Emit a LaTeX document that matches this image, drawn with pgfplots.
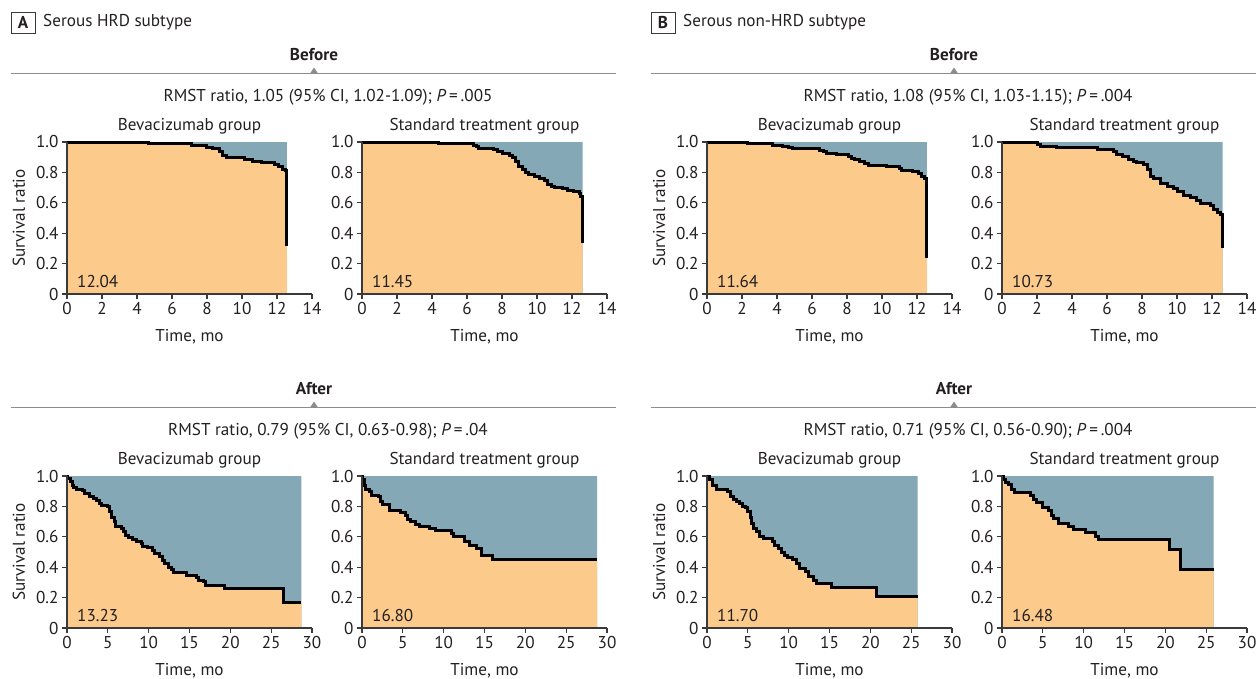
\documentclass[border=0pt]{standalone}
\usepackage{pgfplots}
\pgfplotsset{compat=1.18}
\usepackage{pgfplotstable}
\usepackage{fontspec}
\setmainfont{PT Sans}

\definecolor{kmorange}{HTML}{FCCB8C}
\definecolor{kmblue}{HTML}{84A8B6}
\definecolor{txt}{HTML}{231F20}
\definecolor{axgray}{HTML}{3A3A3A}
\definecolor{sepgray}{HTML}{8C8C8C}

\newcommand{\fs}{\fontsize{17.2}{20}\selectfont}

% survival curves: time (mo), survival ratio (step starts at t)
\pgfplotstableread{
t s
0 1.000
4.67 0.987
7.10 0.976
7.96 0.965
8.34 0.954
8.70 0.940
8.90 0.914
9.10 0.900
9.50 0.897
10.15 0.886
10.60 0.875
11.10 0.864
11.87 0.853
12.06 0.838
12.34 0.820
12.50 0.810
12.57 0.318
}\befAbev
\pgfplotstableread{
t s
0 1.000
4.38 0.989
6.39 0.980
6.54 0.970
6.67 0.956
7.53 0.950
7.73 0.936
8.00 0.923
8.40 0.914
8.60 0.897
8.78 0.870
8.97 0.838
9.16 0.820
9.35 0.800
9.54 0.787
9.83 0.770
10.12 0.757
10.40 0.746
10.60 0.720
10.80 0.710
10.98 0.700
11.46 0.695
11.74 0.684
12.10 0.673
12.40 0.662
12.50 0.640
12.60 0.333
}\befAstd
\pgfplotstableread{
t s
0 1.000
2.34 0.991
3.39 0.987
3.77 0.980
4.06 0.976
4.34 0.969
4.63 0.962
4.91 0.958
6.44 0.947
6.63 0.936
6.82 0.925
7.39 0.919
8.06 0.904
8.25 0.893
8.44 0.882
8.72 0.870
9.00 0.860
9.20 0.844
10.25 0.838
11.00 0.827
11.10 0.810
11.77 0.805
12.06 0.794
12.25 0.776
12.44 0.761
12.53 0.746
12.57 0.235
}\befBbev
\pgfplotstableread{
t s
0 1.000
2.00 0.985
2.19 0.969
3.14 0.962
5.43 0.950
6.38 0.940
6.57 0.920
6.86 0.904
7.24 0.888
7.52 0.875
7.71 0.864
8.10 0.849
8.29 0.816
8.48 0.772
8.67 0.757
9.05 0.728
9.43 0.710
9.81 0.695
10.00 0.673
10.38 0.651
10.76 0.634
11.14 0.612
11.33 0.596
11.90 0.585
12.10 0.557
12.29 0.537
12.50 0.520
12.60 0.305
}\befBstd
\pgfplotstableread{
t s
0 1.000
0.12 0.985
0.40 0.963
0.65 0.940
0.80 0.923
1.20 0.912
1.90 0.903
2.20 0.886
2.80 0.868
3.20 0.853
3.60 0.837
4.00 0.820
4.20 0.809
5.00 0.800
5.20 0.765
5.50 0.730
5.80 0.700
6.00 0.670
6.65 0.655
6.94 0.633
7.20 0.611
7.50 0.596
8.00 0.580
8.50 0.567
9.10 0.556
9.30 0.534
9.90 0.527
10.50 0.510
10.70 0.490
11.35 0.470
11.70 0.446
12.00 0.424
12.40 0.400
12.80 0.385
13.10 0.365
14.60 0.347
15.80 0.332
16.10 0.314
16.70 0.303
16.90 0.279
19.30 0.257
26.45 0.169
28.70 0.169
}\aftAbev
\pgfplotstableread{
t s
0 1.000
0.08 0.978
0.25 0.940
0.37 0.912
0.90 0.897
1.20 0.874
2.00 0.863
2.30 0.830
2.50 0.815
3.40 0.775
4.66 0.760
5.27 0.742
5.56 0.716
5.90 0.700
6.50 0.683
7.10 0.666
8.30 0.652
8.95 0.640
11.00 0.620
11.20 0.600
12.60 0.570
13.20 0.540
14.06 0.520
14.67 0.478
16.00 0.454
28.80 0.454
}\aftAstd
\pgfplotstableread{
t s
0 1.000
0.33 0.974
0.65 0.940
1.14 0.912
2.57 0.897
2.86 0.868
3.20 0.846
3.60 0.830
4.00 0.820
4.40 0.800
4.73 0.790
5.00 0.765
5.30 0.730
5.50 0.690
5.70 0.655
6.00 0.635
6.45 0.604
6.94 0.587
8.00 0.567
8.30 0.545
8.70 0.523
9.10 0.500
9.50 0.480
9.90 0.465
10.50 0.450
11.00 0.424
11.35 0.390
12.00 0.369
12.40 0.340
13.10 0.314
13.40 0.290
15.20 0.266
20.70 0.209
25.80 0.209
}\aftBbev
\pgfplotstableread{
t s
0 1.000
0.20 0.978
0.40 0.956
0.80 0.945
1.20 0.912
1.50 0.894
3.47 0.874
3.80 0.846
4.20 0.824
4.90 0.793
5.70 0.770
6.10 0.742
6.30 0.720
6.94 0.687
8.16 0.665
8.80 0.648
10.20 0.626
11.40 0.604
11.80 0.581
20.50 0.518
21.90 0.388
25.90 0.388
}\aftBstd

\pgfplotsset{panel/.style={
  scale only axis, width=245bp, height=152bp, anchor=south west,
  xmin=0, ymin=0, ymax=1,
  axis x line=bottom, axis y line=left,
  axis line style={-, line width=1.1bp, color=axgray},
  tick align=outside, major tick length=5bp,
  tick style={line width=1.1bp, color=axgray},
  ytick={0,0.2,0.4,0.6,0.8,1},
  yticklabels={0,0.2,0.4,0.6,0.8,1.0},
  tick label style={font=\fs, text=txt},
  /pgf/number format/assume math mode=true,
  clip=false, axis on top,
}}

% #1 left, #2 bottom (px from top), #3 xmax, #4 xticks, #5 table, #6 last time
\newcommand{\km}[6]{%
\begin{axis}[panel, at={(#1bp,-#2bp)}, xmax=#3, xtick={#4}]
  \addplot[fill=kmblue, draw=none] coordinates {(0,0)(0,1)(#6,1)(#6,0)} \closedcycle;
  \addplot[fill=kmorange, draw=none, const plot] table {#5} \closedcycle;
  \addplot[line width=3bp, black, const plot] table {#5};
\end{axis}}

\begin{document}
\begin{tikzpicture}
\path[use as bounding box] (0,0) rectangle (1260bp,-679bp);

% panels
\km{67}{294}{14}{0,2,...,14}{\befAbev}{12.57}
\km{362}{294}{14}{0,2,...,14}{\befAstd}{12.60}
\km{707}{294}{14}{0,2,...,14}{\befBbev}{12.57}
\km{1002}{294}{14}{0,2,...,14}{\befBstd}{12.60}
\km{67}{628}{30}{0,5,...,30}{\aftAbev}{28.70}
\km{362}{628}{30}{0,5,...,30}{\aftAstd}{28.80}
\km{707}{628}{30}{0,5,...,30}{\aftBbev}{25.80}
\km{1002}{628}{30}{0,5,...,30}{\aftBstd}{25.90}

\begin{scope}[every node/.style={font=\fs, text=txt, inner sep=0pt}]
% section headers
\draw[axgray, line width=0.9bp] (11bp,-12bp) rectangle (35bp,-33bp);
\node at (23bp,-22.5bp) {\bfseries A};
\node[anchor=west] at (43bp,-22bp) {Serous HRD subtype};
\draw[axgray, line width=0.9bp] (651bp,-12bp) rectangle (675bp,-33bp);
\node at (663bp,-22.5bp) {\bfseries B};
\node[anchor=west] at (683bp,-22bp) {Serous non-HRD subtype};

\foreach \dy/\lab in {0/Before, 334/After} {
  \foreach \cx/\lx/\rx in {314/11/616, 954/651/1256} {
    \node at (\cx bp,-55bp-\dy bp) {\bfseries \lab};
    \draw[sepgray, line width=1bp] (\lx bp,-73.5bp-\dy bp) -- (\rx bp,-73.5bp-\dy bp);
    \fill[sepgray] (\cx bp-4bp,-73.5bp-\dy bp) -- (\cx bp+4bp,-73.5bp-\dy bp) -- (\cx bp,-67.5bp-\dy bp) -- cycle;
  }
}
\node at (328bp,-97bp) {RMST ratio, 1.05 (95\% CI, 1.02-1.09); \textit{P}\,=\,.005};
\node at (968bp,-97bp) {RMST ratio, 1.08 (95\% CI, 1.03-1.15); \textit{P}\,=\,.004};
\node at (328bp,-431bp) {RMST ratio, 0.79 (95\% CI, 0.63-0.98); \textit{P}\,=\,.04};
\node at (968bp,-431bp) {RMST ratio, 0.71 (95\% CI, 0.56-0.90); \textit{P}\,=\,.004};

% panel titles, axis labels
\foreach \dy in {0, 334} {
  \foreach \cx/\ttl in {189.5/Bevacizumab group, 484.5/Standard treatment group, 829.5/Bevacizumab group, 1124.5/Standard treatment group} {
    \node at (\cx bp,-126bp-\dy bp) {\ttl};
    \node at (\cx bp,-337bp-\dy bp) {Time, mo};
  }
  \node[rotate=90] at (19bp,-218bp-\dy bp) {Survival ratio};
  \node[rotate=90] at (659bp,-218bp-\dy bp) {Survival ratio};
}

% RMST values
\node[anchor=west] at (77bp,-281bp) {12.04};
\node[anchor=west] at (372bp,-281bp) {11.45};
\node[anchor=west] at (717bp,-281bp) {11.64};
\node[anchor=west] at (1012bp,-281bp) {10.73};
\node[anchor=west] at (77bp,-615bp) {13.23};
\node[anchor=west] at (372bp,-615bp) {16.80};
\node[anchor=west] at (717bp,-615bp) {11.70};
\node[anchor=west] at (1012bp,-615bp) {16.48};
\end{scope}
\end{tikzpicture}
\end{document}
